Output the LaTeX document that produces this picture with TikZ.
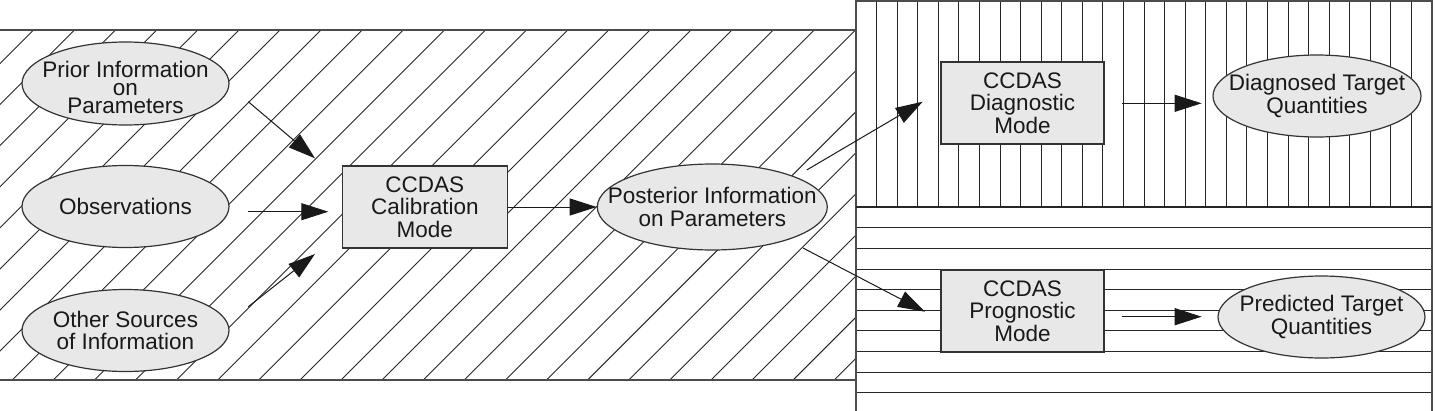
\documentclass[tikz,border=0pt]{standalone}
\usepackage{fontspec}
\setmainfont{Liberation Sans}
\usetikzlibrary{shapes.geometric,arrows.meta}
\definecolor{nodefill}{gray}{0.91}
\tikzset{
  hatch/.style={black!85, line width=0.9pt},
  frame/.style={black!70, line width=1.6pt},
  txt/.style={font=\fontsize{22.5}{22.5}\selectfont, align=center, text=black!90},
  oval/.style={txt, ellipse, draw=black!80, fill=nodefill, line width=1.2pt,
    minimum width=207pt, minimum height=82pt, inner xsep=-40pt, inner ysep=-20pt},
  modebox/.style={txt, rectangle, draw=black!80, fill=nodefill, line width=1.2pt,
    minimum width=164pt, minimum height=82pt, inner sep=0pt},
  flow/.style={black!90, line width=1pt, -{Triangle[length=27pt,width=17pt]}}
}
\begin{document}
\begin{tikzpicture}[x=1pt,y=-1pt]
\useasboundingbox (0,0) rectangle (1435,410);
% left diagonal-hatched region
\begin{scope}
  \clip (0,30) rectangle (856,380);
  \foreach \k in {-1,...,31} {
    \draw[hatch] ({22.3+41.1*\k},0) -- ({22.3+41.1*\k-420},420);
  }
\end{scope}
\draw[frame] (-5,30) -- (856,30) -- (856,380) -- (-5,380);
% top-right vertical hatch
\foreach \k in {1,...,27} {
  \draw[hatch] ({856+20.57*\k},1) -- ({856+20.57*\k},207);
}
% bottom-right horizontal hatch
\foreach \k in {1,...,9} {
  \draw[hatch] (856,{207+20.65*\k}) -- (1432,{207+20.65*\k});
}
\draw[frame] (856,415) -- (856,1) -- (1432,1) -- (1432,415);
\draw[frame, black!85, line width=2pt] (856,207) -- (1432,207);

% nodes
\node[oval, minimum height=83pt, font=\fontsize{22.5}{18}\selectfont] (prior) at (125.5,83.5)
  {\rule{0pt}{25pt}Prior Information\\on\\Parameters};
\node[oval] (obs) at (125.5,206.5) {Observations};
\node[oval, font=\fontsize{22.5}{21.8}\selectfont] (other) at (125.5,330.5) {Other Sources\\of Information};
\node[modebox, minimum width=165pt] (calib) at (424.8,207) {CCDAS\\Calibration\\Mode};
\node[oval, minimum width=230pt, minimum height=86pt] (post) at (712.3,207) {Posterior Information\\on Parameters};
\node[modebox, minimum width=163pt] (diag) at (1022.5,103) {CCDAS\\Diagnostic\\Mode};
\node[modebox, minimum width=163pt] (prog) at (1022.5,311) {CCDAS\\Prognostic\\Mode};
\node[oval, minimum width=208pt] (diagq) at (1317,96) {Diagnosed Target\\Quantities};
\node[oval] (predq) at (1321.5,317) {Predicted Target\\Quantities};

% connector end points
\coordinate (a1s) at (248.3,101.7); \coordinate (a1e) at (315,158.3);
\coordinate (a2s) at (248.3,211.7); \coordinate (a2e) at (328.3,211.7);
\coordinate (a3s) at (248.3,306.7); \coordinate (a3e) at (315,254);
\coordinate (a5s) at (806.7,170);   \coordinate (a5e) at (922.7,101.7);
\coordinate (a6s) at (803,248);     \coordinate (a6e) at (925,311.7);
\coordinate (a7s) at (1122,103.3);  \coordinate (a7e) at (1201.7,103.3);
\coordinate (a8s) at (1122,316.7);  \coordinate (a8e) at (1201.7,316.7);

\draw[flow] (a1s) -- (a1e);
\draw[flow] (a2s) -- (a2e);
\draw[flow] (a3s) -- (a3e);
\draw[flow] (calib.east) -- (post.west);
\draw[flow] (a5s) -- (a5e);
\draw[flow] (a6s) -- (a6e);
\draw[flow] (a7s) -- (a7e);
\draw[flow] (a8s) -- (a8e);
\end{tikzpicture}
\end{document}
